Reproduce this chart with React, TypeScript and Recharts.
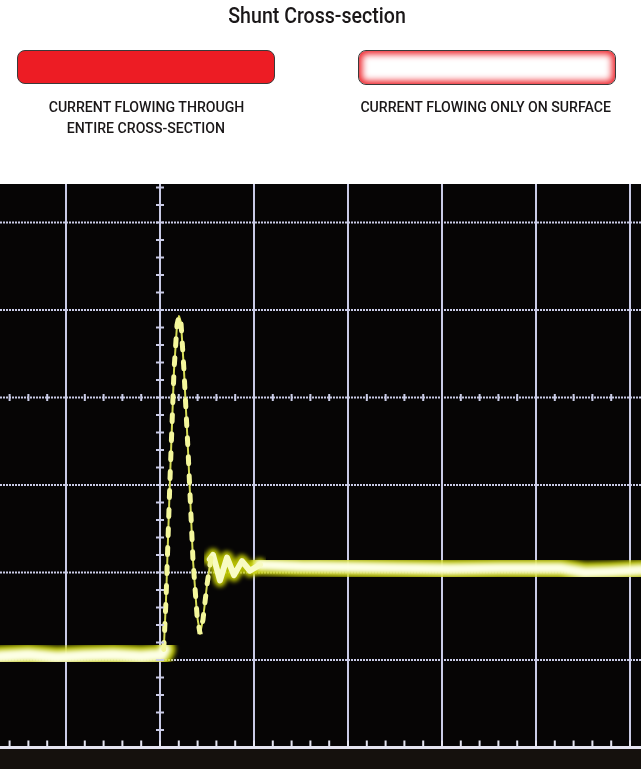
import React from "react";
import {
  ComposedChart,
  Line,
  Scatter,
  XAxis,
  YAxis,
  CartesianGrid,
  ReferenceLine,
} from "recharts";

// scope units: 1 = one division. t = 0 on the centre vertical, v = 0 on the centre horizontal
const gridT = [-1, 0, 1, 2, 3, 4, 5];
const gridV = [2, 1, 0, -1, -2, -3];
const floorV = -4;

// trace
const baselineT = [-1.71, -1.4, -1.1, -0.8, -0.5, -0.2, 0.02, 0.05];
const baselineV = [-2.96, -2.94, -2.97, -2.95, -2.94, -2.96, -2.94, -2.88];

const spikeT = [0.04, 0.064, 0.106, 0.149, 0.181, 0.202, 0.223, 0.255, 0.298, 0.351, 0.394, 0.426, 0.457, 0.5, 0.543];
const spikeV = [-2.88, -2.31, -0.94, 0.31, 0.83, 0.93, 0.86, 0.31, -0.6, -1.86, -2.49, -2.7, -2.54, -2.14, -1.83];

const ringT = [0.53, 0.564, 0.638, 0.713, 0.787, 0.872, 0.957, 1.064];
const ringV = [-1.85, -1.8, -2.09, -1.83, -2.03, -1.87, -1.98, -1.91];

const plateauT = [1.06, 1.49, 2.02, 2.55, 3.085, 3.617, 4.255, 4.52, 4.787, 5.12];
const plateauV = [-1.91, -1.93, -1.94, -1.95, -1.96, -1.95, -1.95, -2.0, -1.99, -1.97];

const minorStep = 0.2;
const minorT = Array.from({ length: 34 }, (_, i) => -1.6 + i * minorStep);
const minorV = Array.from({ length: 32 }, (_, i) => 2.4 - i * minorStep);

const pts = (ts: number[], vs: number[]) => ts.map((t, i) => ({ t, v: vs[i] }));

const baseline = pts(baselineT, baselineV);
const spike = pts(spikeT, spikeV);
const ring = pts(ringT, ringV);
const plateau = pts(plateauT, plateauV);
const hTicks = minorT.map((t) => ({ t, v: 0 }));
const vTicks = minorV.map((v) => ({ t: 0, v }));
const floorTicks = minorT.map((t) => ({ t, v: floorV }));

const GRID = "#c9cbe6";
const FLOOR = "#e4e4f0";
const FONT = "Roboto, 'Noto Sans', sans-serif";

const VTick = (p: any) => (
  <line x1={p.cx - 4} x2={p.cx + 4} y1={p.cy} y2={p.cy} stroke={GRID} strokeWidth={2} />
);
const HTick = (p: any) => (
  <line x1={p.cx} x2={p.cx} y1={p.cy - 3.5} y2={p.cy + 3.5} stroke={GRID} strokeWidth={2} />
);
const FloorTick = (p: any) => (
  <line x1={p.cx} x2={p.cx} y1={p.cy - 7} y2={p.cy} stroke={FLOOR} strokeWidth={2} />
);

function trace(key: string, data: any[], width: number, color: string, opacity = 1, filter?: string) {
  return (
    <Line
      key={key}
      data={data}
      dataKey="v"
      xAxisId="main"
      yAxisId="main"
      type="linear"
      stroke={color}
      strokeWidth={width}
      strokeOpacity={opacity}
      strokeLinecap="round"
      strokeLinejoin="round"
      dot={false}
      filter={filter}
      isAnimationActive={false}
    />
  );
}

function Label({ left, top, width, size, sx, children }: any) {
  return (
    <div style={{ position: "absolute", left, top, width, textAlign: "center", fontSize: size, lineHeight: 1.3 }}>
      <span style={{ display: "inline-block", transform: `scaleX(${sx})`, whiteSpace: "nowrap" }}>{children}</span>
    </div>
  );
}

export default function App() {
  return (
    <div
      style={{
        position: "absolute",
        left: 0,
        top: 0,
        width: 641,
        height: 769,
        background: "#fff",
        fontFamily: FONT,
        fontWeight: 500,
        color: "#1a1718",
        overflow: "hidden",
      }}
    >
      <Label left={0} top={1} width={634} size={22.5} sx={0.87}>
        Shunt Cross-section
      </Label>
      <div
        style={{
          position: "absolute",
          left: 17,
          top: 50,
          width: 256,
          height: 32,
          background: "#ed1c24",
          border: "1.5px solid #3a3a3a",
          borderRadius: 8,
        }}
      />
      <div
        style={{
          position: "absolute",
          left: 358,
          top: 50,
          width: 256,
          height: 33,
          background: "#fff",
          border: "1.5px solid #3a3a3a",
          borderRadius: 8,
          boxShadow: "inset 0 0 7px 3px #ed1c24",
        }}
      />
      <Label left={0} top={97} width={292} size={15.5} sx={0.91}>
        CURRENT FLOWING THROUGH
      </Label>
      <Label left={0} top={118} width={292} size={15.5} sx={0.91}>
        ENTIRE CROSS-SECTION
      </Label>
      <Label left={340} top={97} width={292} size={15.5} sx={0.91}>
        CURRENT FLOWING ONLY ON SURFACE
      </Label>

      <div
        style={{
          position: "absolute",
          left: 0,
          top: 184,
          width: 641,
          height: 585,
          background: "linear-gradient(#060505 0, #060505 563px, #15110d 566px)",
        }}
      >
        <ComposedChart width={641} height={585} margin={{ top: 0, right: 0, bottom: 21.5, left: 0 }}>
          <defs>
            <filter id="glow" x="-10%" y="-50%" width="120%" height="200%">
              <feGaussianBlur stdDeviation="2" />
            </filter>
          </defs>
          <XAxis
            xAxisId="main"
            dataKey="t"
            type="number"
            domain={[-1.7021, 5.117]}
            ticks={gridT}
            allowDataOverflow
            hide
          />
          <YAxis
            yAxisId="main"
            dataKey="v"
            type="number"
            domain={[floorV, 2.44]}
            ticks={gridV}
            allowDataOverflow
            hide
          />
          <CartesianGrid
            xAxisId="main"
            yAxisId="main"
            vertical={false}
            syncWithTicks
            stroke={GRID}
            strokeWidth={2}
            strokeDasharray="2 1"
          />
          <CartesianGrid
            xAxisId="main"
            yAxisId="main"
            horizontal={false}
            syncWithTicks
            stroke={GRID}
            strokeWidth={2}
          />
          <ReferenceLine xAxisId="main" yAxisId="main" y={floorV} stroke={FLOOR} strokeWidth={3} />
          <Scatter data={hTicks} dataKey="v" xAxisId="main" yAxisId="main" shape={HTick} isAnimationActive={false} />
          <Scatter data={vTicks} dataKey="v" xAxisId="main" yAxisId="main" shape={VTick} isAnimationActive={false} />
          <Scatter data={floorTicks} dataKey="v" xAxisId="main" yAxisId="main" shape={FloorTick} isAnimationActive={false} />

          {/* glow under the flat parts of the trace */}
          {trace("g1", baseline, 22, "#c8d000", 0.9, "url(#glow)")}
          {trace("g2", plateau, 21, "#c8d000", 0.9, "url(#glow)")}
          {trace("g3", ring, 13, "#c8d000", 0.9, "url(#glow)")}
          {trace("c1", baseline, 12, "#fdffe4", 1, "url(#glow)")}
          {trace("c2", plateau, 11, "#fdffe4", 1, "url(#glow)")}
          {trace("c3", ring, 6, "#f8fbc4")}

          {/* the fast edge is faint with bright beads */}
          {trace("s1", spike, 2, "#d6dc55")}
          <Line
            data={spike}
            dataKey="v"
            xAxisId="main"
            yAxisId="main"
            type="linear"
            stroke="#f4f79c"
            strokeWidth={5}
            strokeLinecap="round"
            strokeDasharray="7 12"
            dot={false}
            isAnimationActive={false}
          />
        </ComposedChart>
      </div>
    </div>
  );
}
